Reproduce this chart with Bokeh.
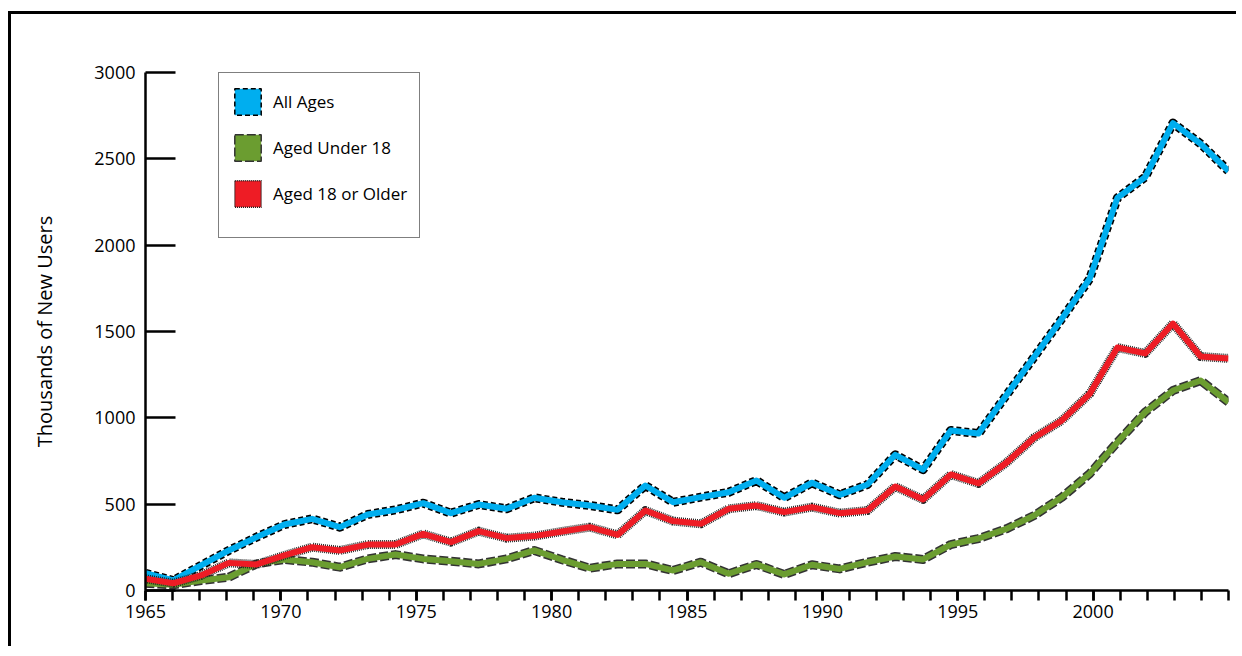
from bokeh.plotting import figure
from bokeh.models import Range1d, FixedTicker, CustomJSTickFormatter, Legend, LegendItem
from bokeh.embed import file_html
from bokeh.resources import INLINE

# ---- data (thousands of new users) ----
years = list(range(1965, 2005))
all_ages = [100, 58, 145, 232, 309, 382, 415, 367, 440, 467,
            506, 448, 498, 473, 537, 511, 492, 467, 608, 511,
            541, 569, 637, 537, 624, 554, 614, 786, 700, 927,
            909, 1131, 1352, 1574, 1805, 2274, 2394, 2707, 2587, 2429]
under_18 = [42, 33, 58, 77, 154, 180, 164, 135, 183, 208,
            183, 170, 154, 183, 232, 178, 129, 154, 154, 116,
            164, 97, 151, 93, 149, 125, 164, 197, 180, 266,
            301, 357, 434, 540, 676, 859, 1033, 1158, 1216, 1091]
over_18 = [68, 42, 87, 160, 151, 203, 251, 232, 266, 266,
           328, 280, 344, 303, 315, 342, 367, 322, 463, 402,
           386, 473, 492, 454, 483, 448, 463, 602, 527, 672,
           620, 740, 885, 985, 1139, 1407, 1373, 1546, 1355, 1344]
series_names = ["All Ages", "Aged Under 18", "Aged 18 or Older"]
y_ticks = [0, 500, 1000, 1500, 2000, 2500, 3000]
x_tick_labels = [1965, 1970, 1975, 1980, 1985, 1990, 1995, 2000]
y_title = "Thousands of New Users"

BLUE = "#00AEEF"
GREEN = "#6B9D30"
RED = "#EE1C25"
FONT = "Open Sans"
NAN = float("nan")

p = figure(width=1228, height=635,
           x_range=Range1d(years[0], years[-1]), y_range=Range1d(0, 3000),
           output_backend="svg", toolbar_location=None,
           min_border_left=134, min_border_right=11,
           min_border_top=58, min_border_bottom=59,
           styles={"margin-top": "11px", "margin-left": "8px",
                   "border-top": "3px solid black",
                   "border-left": "3px solid black"})
p.xgrid.visible = False
p.ygrid.visible = False
p.outline_line_color = None
p.background_fill_color = "white"
p.border_fill_color = "white"

# x axis: 41 year ticks across the 40 data points (as in the original chart)
n = len(years)
span = years[-1] - years[0]
nt = n
all_tick_pos = [years[0] + k * span / nt for k in range(nt + 1)]
major_pos = [years[0] + (yl - years[0]) * span / nt for yl in x_tick_labels]
p.xaxis.ticker = FixedTicker(ticks=major_pos, minor_ticks=all_tick_pos)
p.xaxis.formatter = CustomJSTickFormatter(
    code="return String(Math.round(%d + (tick - %d) * %d / %d));" % (years[0], years[0], nt, span))
p.xaxis.major_tick_in = 0
p.xaxis.major_tick_out = 10
p.xaxis.minor_tick_in = 0
p.xaxis.minor_tick_out = 10
p.xaxis.major_label_standoff = 4

p.yaxis.ticker = FixedTicker(ticks=y_ticks)
p.yaxis.major_tick_in = 30
p.yaxis.major_tick_out = 0
p.yaxis.minor_tick_line_color = None
p.yaxis.major_label_standoff = 10
p.yaxis.axis_label = y_title
p.yaxis.axis_label_text_font = FONT
p.yaxis.axis_label_text_font_size = "20px"
p.yaxis.axis_label_text_font_style = "normal"
p.yaxis.axis_label_text_color = "black"
p.yaxis.axis_label_standoff = 33

for ax in (p.xaxis, p.yaxis):
    ax.axis_line_width = 2.5
    ax.axis_line_color = "black"
    ax.major_tick_line_width = 2.5
    ax.major_tick_line_color = "black"
    ax.minor_tick_line_width = 2.5
    ax.major_label_text_font = FONT
    ax.major_label_text_font_size = "18px"
    ax.major_label_text_color = "black"
p.xaxis.minor_tick_line_color = "black"

styles = [
    (all_ages, BLUE, "black", "5 3"),
    (under_18, GREEN, "#333333", "9 3"),
    (over_18, RED, "#222222", "1 1"),
]
legend_items = []
for (vals, col, edge, dash), name in zip(styles, series_names):
    p.line(years, vals, line_color=edge, line_width=9, line_dash=dash, line_join="round")
    p.line(years, vals, line_color=col, line_width=6, line_join="round")
    # legend swatch: a quad with no drawable extent (NaN), used only for the key
    sw = p.quad(left=[NAN], right=[NAN], top=[NAN], bottom=[NAN], fill_color=col,
                line_color=edge, line_dash=dash, line_width=1.5)
    legend_items.append(LegendItem(label=name, renderers=[sw], index=0))

legend = Legend(items=legend_items, location=(73, 518 - 166),
                padding=12, spacing=13, glyph_width=33, glyph_height=33,
                label_standoff=9, margin=0,
                label_text_font=FONT, label_text_font_size="17px",
                label_text_color="black",
                border_line_color="black", border_line_width=1.5,
                background_fill_color="white", background_fill_alpha=1.0)
if "title_location" in Legend.properties():
    legend.title = " "
    legend.title_location = "below"
    legend.title_text_font_size = "10px"
    legend.title_standoff = 4
else:
    legend.location = (73, 518 - 149)
p.add_layout(legend, "center")

open("out.html", "w").write(file_html(p, INLINE))
